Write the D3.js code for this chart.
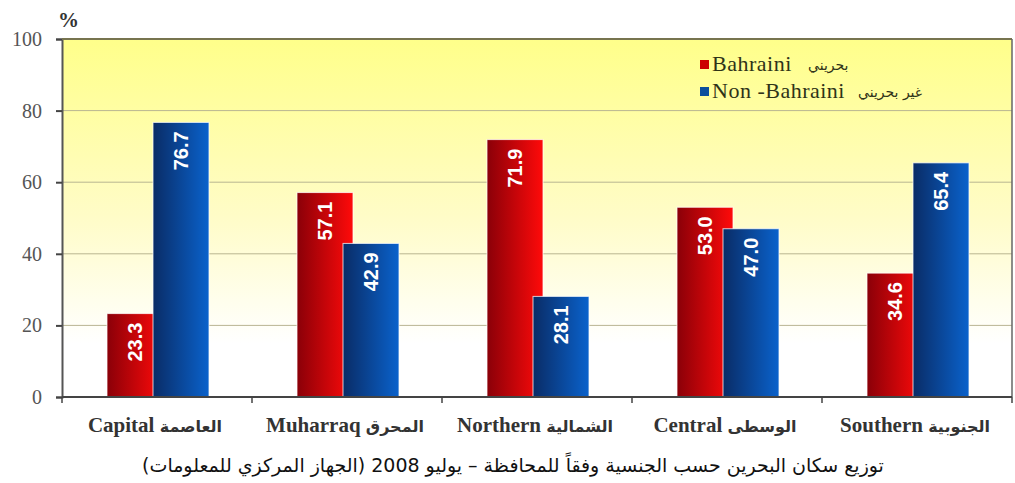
<!DOCTYPE html>
<html>
<head>
<meta charset="utf-8">
<script src="https://cdn.jsdelivr.net/npm/d3@7"></script>
<style>
  body { margin: 0; background: #fff; }
  svg { display: block; }
</style>
</head>
<body>
<div id="chart"></div>
<script>
// governorates, english + arabic names
const categories = ['Capital', 'Muharraq', 'Northern', 'Central', 'Southern'];
const categoriesAr = ['العاصمة', 'المحرق', 'الشمالية', 'الوسطى', 'الجنوبية'];
const series = ['Bahraini', 'Non -Bahraini'];
const seriesAr = ['بحريني', 'غير بحريني'];
const bahraini = [23.3, 57.1, 71.9, 53.0, 34.6];
const nonBahraini = [76.7, 42.9, 28.1, 47.0, 65.4];
const yTicks = [0, 20, 40, 60, 80, 100];
const caption = 'توزيع سكان البحرين حسب الجنسية وفقاً للمحافظة – يوليو 2008 (الجهاز المركزي للمعلومات)';

const width = 1015, height = 483;
const margin = { top: 39, right: 3, bottom: 86, left: 62 };
const serifFont = "'Liberation Serif', 'Times New Roman', serif";
const arabicFont = "'DejaVu Sans', sans-serif";

const svg = d3.select('#chart').append('svg')
    .attr('width', width).attr('height', height);

const defs = svg.append('defs');

// plot background: yellow at top fading to white
const bg = defs.append('linearGradient').attr('id', 'bgGrad')
    .attr('x1', 0).attr('y1', 0).attr('x2', 0).attr('y2', 1);
bg.append('stop').attr('offset', '0%').attr('stop-color', '#ffff8a');
bg.append('stop').attr('offset', '50%').attr('stop-color', '#fffcc8');
bg.append('stop').attr('offset', '85%').attr('stop-color', '#ffffff');

// bar gradients, dark on the left, bright on the right
function barGrad(id, c0, c1) {
    const g = defs.append('linearGradient').attr('id', id)
        .attr('x1', 0).attr('y1', 0).attr('x2', 1).attr('y2', 0);
    g.append('stop').attr('offset', '0%').attr('stop-color', c0);
    g.append('stop').attr('offset', '100%').attr('stop-color', c1);
}
barGrad('redGrad', '#8a0008', '#ff0a0a');
barGrad('blueGrad', '#0a2c66', '#0a62cc');

const x0 = d3.scaleBand().domain(categories)
    .range([margin.left, width - margin.right]);
const xOff = d3.scaleOrdinal().domain(series).range([-50, -4]);
const barW = 56;
const y = d3.scaleLinear().domain([0, 100])
    .range([height - margin.bottom, margin.top]);

svg.append('rect')
    .attr('x', margin.left).attr('y', margin.top)
    .attr('width', width - margin.left - margin.right)
    .attr('height', height - margin.top - margin.bottom)
    .attr('fill', 'url(#bgGrad)');

// gridlines
svg.append('g').selectAll('line')
    .data(yTicks.filter(d => d > 0 && d < 100))
    .enter().append('line')
    .attr('x1', margin.left).attr('x2', width - margin.right)
    .attr('y1', d => y(d)).attr('y2', d => y(d))
    .attr('stroke', '#b9b592').attr('stroke-width', 1);

// y axis
const yAxis = svg.append('g')
    .attr('transform', `translate(${margin.left},0)`)
    .call(d3.axisLeft(y).tickValues(yTicks).tickSize(6).tickPadding(14));
yAxis.attr('font-family', null).attr('font-size', null);
yAxis.select('.domain').attr('stroke', '#555').attr('stroke-width', 2);
yAxis.selectAll('.tick line').attr('stroke', '#444').attr('stroke-width', 2);
yAxis.selectAll('.tick text')
    .style('font-family', serifFont)
    .style('font-size', '20px').attr('fill', '#555');

// plot frame top/right
svg.append('line')
    .attr('x1', margin.left).attr('x2', width - margin.right)
    .attr('y1', margin.top).attr('y2', margin.top)
    .attr('stroke', '#77744f').attr('stroke-width', 2);
svg.append('line')
    .attr('x1', width - margin.right).attr('x2', width - margin.right)
    .attr('y1', margin.top).attr('y2', y(0))
    .attr('stroke', '#666').attr('stroke-width', 1.5);

// bars
const rows = series.map((s, i) => ({
    key: s,
    fill: i === 0 ? 'url(#redGrad)' : 'url(#blueGrad)',
    values: categories.map((c, j) => ({ cat: c, v: i === 0 ? bahraini[j] : nonBahraini[j] }))
}));

rows.forEach(r => {
    const g = svg.append('g');
    g.selectAll('rect').data(r.values).enter().append('rect')
        .attr('x', d => x0(d.cat) + x0.bandwidth() / 2 + xOff(r.key))
        .attr('y', d => y(d.v))
        .attr('width', barW)
        .attr('height', d => y(0) - y(d.v))
        .attr('fill', r.fill)
        .attr('stroke', 'rgba(255,255,255,0.75)').attr('stroke-width', 1);
    // value labels, rotated, near the bar top
    g.selectAll('text').data(r.values).enter().append('text')
        .attr('transform', d => {
            const cx = x0(d.cat) + x0.bandwidth() / 2 + xOff(r.key) + barW / 2;
            return `translate(${cx + 7},${y(d.v) + 9}) rotate(-90)`;
        })
        .attr('text-anchor', 'end')
        .style('font-family', "'Liberation Sans', Arial, sans-serif")
        .style('font-weight', 'bold')
        .style('font-size', '20px')
        .attr('fill', '#fff')
        .text(d => d.v.toFixed(1));
});

// x axis line + ticks between groups
svg.append('line')
    .attr('x1', margin.left).attr('x2', width - margin.right)
    .attr('y1', y(0)).attr('y2', y(0))
    .attr('stroke', '#444').attr('stroke-width', 2);
svg.append('g').selectAll('line')
    .data(categories.concat(['end']))
    .enter().append('line')
    .attr('x1', (d, i) => margin.left + i * x0.bandwidth())
    .attr('x2', (d, i) => margin.left + i * x0.bandwidth())
    .attr('y1', y(0)).attr('y2', y(0) + 6)
    .attr('stroke', '#444').attr('stroke-width', 1.5);

// category labels: english bold + arabic smaller
const catLab = svg.append('g').selectAll('text')
    .data(categories).enter().append('text')
    .attr('x', d => x0(d) + x0.bandwidth() / 2 - 2)
    .attr('y', 432)
    .attr('text-anchor', 'middle')
    .style('font-weight', 'bold')
    .attr('fill', '#333');
catLab.append('tspan')
    .style('font-family', serifFont)
    .style('font-size', '21px')
    .text(d => d + '  ');
catLab.append('tspan')
    .style('font-family', arabicFont)
    .style('font-size', '16px')
    .text((d, i) => categoriesAr[i]);

// "%" unit
svg.append('text')
    .attr('x', 58).attr('y', 27)
    .style('font-family', serifFont)
    .style('font-weight', 'bold').style('font-size', '21px')
    .attr('fill', '#333').text('%');

// legend
const legColors = ['#cc0000', '#0b4f9c'];
const leg = svg.append('g').selectAll('g')
    .data(series).enter().append('g')
    .attr('transform', (d, i) => `translate(700,${65 + i * 27})`);
leg.append('rect')
    .attr('x', 0).attr('y', -5).attr('width', 9).attr('height', 9)
    .attr('fill', (d, i) => legColors[i]);
leg.append('text')
    .attr('x', 12).attr('y', 6)
    .style('font-family', serifFont)
    .style('font-size', '22px').style('letter-spacing', '0.5px')
    .attr('fill', '#2f3318')
    .text(d => d);
leg.append('text')
    .attr('x', (d, i) => i === 0 ? 808 - 700 : 858 - 700).attr('y', 5)
    .style('font-family', arabicFont)
    .style('font-size', '14px').attr('fill', '#2f3318')
    .text((d, i) => seriesAr[i]);

// caption
svg.append('text')
    .attr('x', 513).attr('y', 472)
    .attr('text-anchor', 'middle')
    .attr('direction', 'rtl')
    .style('font-family', arabicFont)
    .style('font-size', '19px').attr('fill', '#111')
    .text(caption);
</script>
</body>
</html>
